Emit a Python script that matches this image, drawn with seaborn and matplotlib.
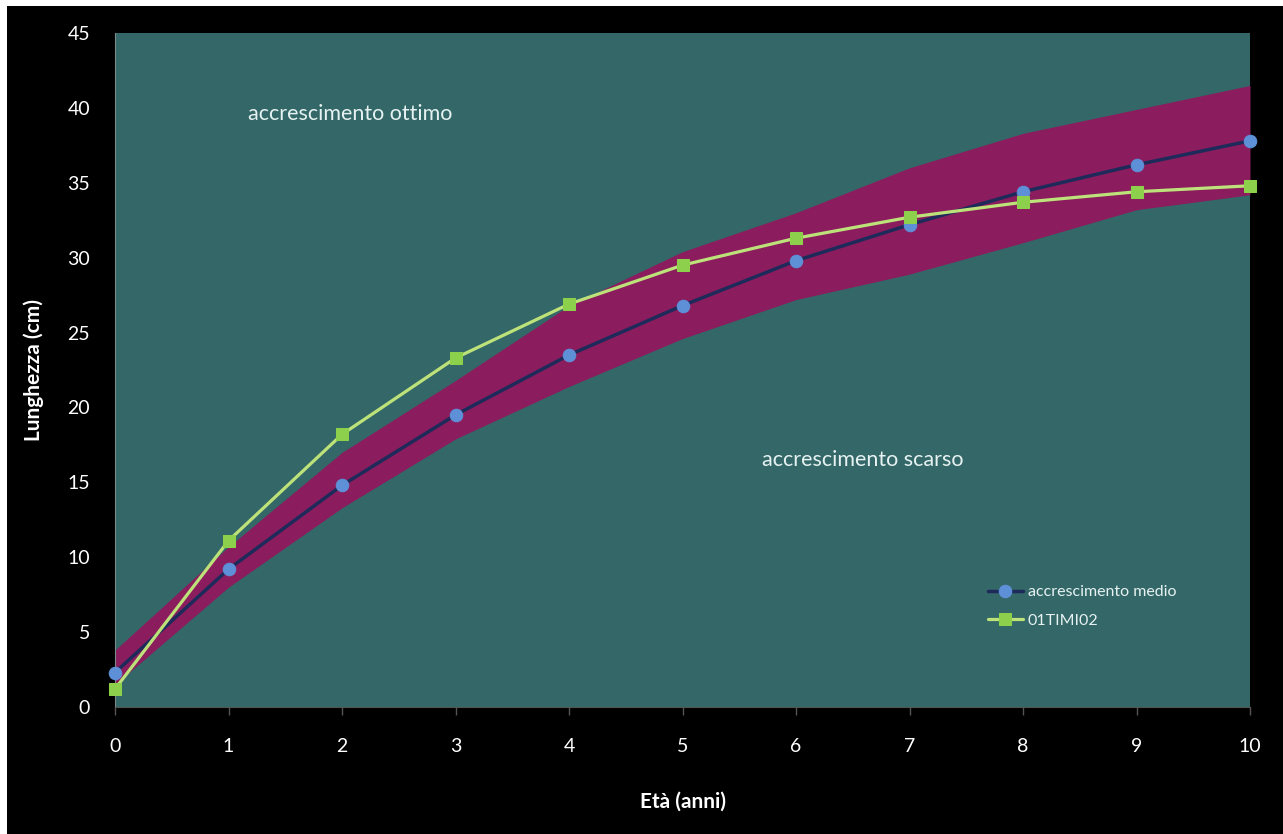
import numpy as np
import pandas as pd
import matplotlib
matplotlib.use("Agg")
import matplotlib.pyplot as plt
import seaborn as sns
from matplotlib.patches import Rectangle

# Age (years)
eta = [0, 1, 2, 3, 4, 5, 6, 7, 8, 9, 10]

# Mean growth curve
medio = [2.3, 9.2, 14.8, 19.5, 23.5, 26.8, 29.8, 32.2, 34.4, 36.2, 37.8]

# Sample 01TIMI02
timi = [1.2, 11.1, 18.2, 23.3, 26.9, 29.5, 31.3, 32.7, 33.7, 34.4, 34.8]

# Band around the mean curve
band_hi = [3.8, 10.7, 17.0, 21.8, 26.8, 30.4, 33.0, 36.0, 38.3, 39.9, 41.5]
band_lo = [1.5, 8.0, 13.3, 17.9, 21.4, 24.6, 27.2, 28.9, 31.0, 33.2, 34.2]

df = pd.DataFrame({"eta": eta, "medio": medio, "timi": timi})

sns.set_style("dark")
plt.rcParams['font.family'] = ['Lato', 'DejaVu Sans']

fig = plt.figure(figsize=(12.83, 8.34), dpi=100, facecolor="white")
fig.patches.append(Rectangle((7 / 1283, 0), 1, 1 - 6 / 834, transform=fig.transFigure,
                             facecolor="black", edgecolor="none", zorder=-10))
ax = fig.add_axes([115 / 1283, 1 - 707 / 834, 1135 / 1283, 674 / 834])
ax.set_facecolor("#346767")

ax.fill_between(eta, band_lo, band_hi, color="#8B1D5E", linewidth=0, zorder=1)

sns.lineplot(data=df, x="eta", y="medio", ax=ax, color="#1E2A5A", linewidth=2.5,
             marker="o", markersize=9, markerfacecolor="#5E90D8", markeredgecolor="#5E90D8",
             label="accrescimento medio", zorder=3, clip_on=False)
sns.lineplot(data=df, x="eta", y="timi", ax=ax, color="#BDE27A", linewidth=2.3,
             marker="s", markersize=9, markerfacecolor="#8CD04C", markeredgecolor="#8CD04C",
             label="01TIMI02", zorder=4, clip_on=False)

ax.set_xlim(0, 10)
ax.set_ylim(0, 45)
ax.set_xticks(range(0, 11))
ax.set_yticks(range(0, 46, 5))
ax.grid(False)
ax.tick_params(axis="x", labelcolor="white", color="#555555", labelsize=14, length=6,
               width=1, direction="out", pad=16, bottom=True)
ax.tick_params(axis="y", labelcolor="white", labelsize=14, length=0, pad=18)
for side in ["top", "right"]:
    ax.spines[side].set_visible(False)
ax.spines["left"].set_visible(True)
ax.spines["left"].set_color("#7A8A8A")
ax.spines["bottom"].set_visible(True)
ax.spines["bottom"].set_color("#555555")

ax.set_xlabel("Età (anni)", color="white", fontsize=15, fontweight="bold", labelpad=27)
ax.set_ylabel("Lunghezza (cm)", color="white", fontsize=15, fontweight="bold", labelpad=17)

ax.text(1.17, 39.6, "accrescimento ottimo", color="#E6F2F2", fontsize=15.5, va="center", ha="left")
ax.text(5.7, 16.5, "accrescimento scarso", color="#E6F2F2", fontsize=15.5, va="center", ha="left")

leg = ax.legend(loc="upper left", bbox_to_anchor=(0.769, 0.181), frameon=False,
                fontsize=11.5, labelcolor="#E6F2F2", handlelength=2.2, handletextpad=0.3,
                labelspacing=0.9, borderaxespad=0, borderpad=0)

fig.savefig("out.png", dpi=100, facecolor=fig.get_facecolor())
